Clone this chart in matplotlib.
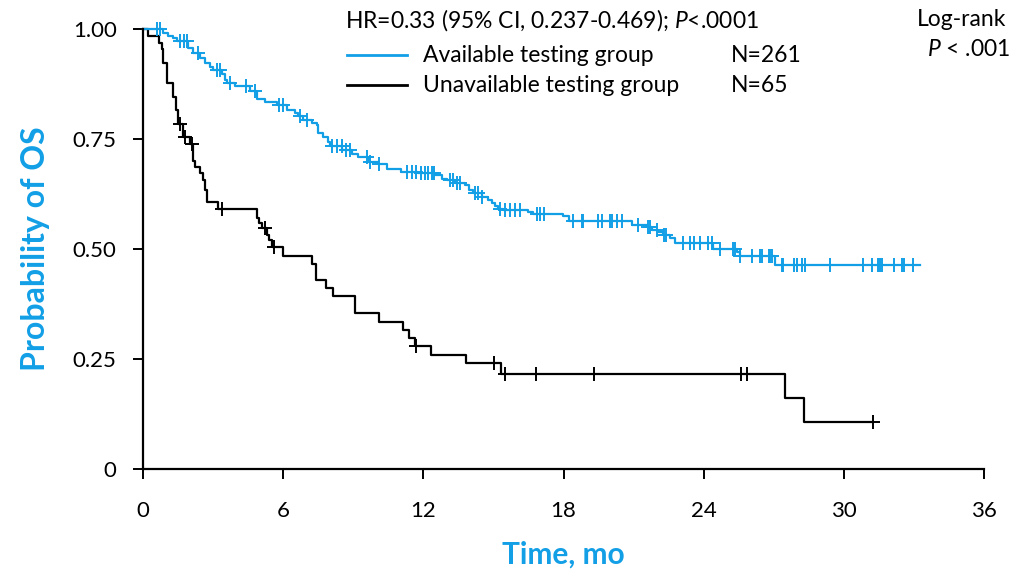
import numpy as np
import matplotlib
matplotlib.use("Agg")
import matplotlib.pyplot as plt

plt.rcParams["font.family"] = ["Lato", "DejaVu Sans"]
plt.rcParams["mathtext.fontset"] = "custom"
plt.rcParams["mathtext.rm"] = "Lato"
plt.rcParams["mathtext.it"] = "Lato:italic"

BLUE = "#129fe6"

# Available testing group (N=261): step times (mo) and survival after each step
avail_time = [0.0, 0.87, 1.08, 1.30, 1.44, 1.94, 2.15, 2.44, 2.65, 2.87, 3.01, 3.37, 3.51, 3.58,
              3.94, 4.58, 4.87, 5.22, 5.72, 6.15, 6.51, 6.65, 6.86, 7.22, 7.44, 7.50, 7.72, 7.93,
              8.01, 8.51, 8.93, 9.22, 9.64, 10.07, 10.43, 11.04, 11.77, 12.50, 12.79, 13.00,
              13.36, 13.78, 13.93, 14.14, 14.50, 14.78, 14.93, 15.07, 15.21, 15.42, 16.49, 16.71,
              17.99, 18.21, 20.92, 21.56, 21.78, 22.06, 22.27, 22.56, 22.77, 24.41, 25.41, 25.56,
              27.05]
avail_surv = [1.0, 0.990, 0.985, 0.979, 0.973, 0.956, 0.945, 0.935, 0.923, 0.914, 0.907, 0.898,
              0.884, 0.877, 0.871, 0.860, 0.842, 0.835, 0.827, 0.816, 0.808, 0.802, 0.793, 0.786,
              0.782, 0.763, 0.755, 0.744, 0.733, 0.725, 0.717, 0.710, 0.698, 0.693, 0.682, 0.676,
              0.672, 0.668, 0.660, 0.657, 0.649, 0.645, 0.634, 0.627, 0.619, 0.611, 0.604, 0.598,
              0.592, 0.589, 0.585, 0.580, 0.574, 0.564, 0.555, 0.551, 0.543, 0.539, 0.532, 0.524,
              0.514, 0.499, 0.494, 0.483, 0.464]
avail_end = 33.26
avail_cens = [0.59, 0.73, 1.60, 1.75, 1.90, 2.35, 3.15, 3.30, 3.70, 4.40, 4.80, 5.80, 6.00,
              6.70, 7.00, 8.10, 8.30, 8.50, 8.70, 8.85, 9.60, 9.70, 10.10, 11.30, 11.50, 11.70,
              11.90, 12.05, 12.20, 12.35, 12.45, 13.14, 13.27, 13.43, 13.57, 14.20, 14.35, 14.50,
              15.28, 15.50, 15.71, 15.92, 16.14, 16.85, 17.00, 17.14, 18.42, 18.78, 18.85, 19.49,
              19.63, 19.99, 20.06, 20.28, 20.49, 21.20, 21.60, 21.70, 22.00, 22.30, 22.40, 23.13,
              23.42, 23.56, 23.84, 24.20, 24.34, 24.70, 25.27, 25.34, 25.56, 26.06, 26.42, 26.48,
              26.77, 26.84, 26.91, 27.34, 27.41, 27.84, 27.99, 28.20, 28.34, 29.41, 30.83, 31.19,
              31.47, 31.55, 31.62, 32.12, 32.48, 32.55, 32.97]

# Unavailable testing group (N=65)
unav_time = [0.0, 0.23, 0.66, 0.80, 0.87, 1.01, 1.30, 1.40, 1.51, 1.73, 2.00, 2.13, 2.23, 2.44,
             2.58, 2.65, 2.73, 3.22, 4.87, 4.98, 5.08, 5.30, 5.37, 5.51, 6.00, 7.22, 7.40, 7.83,
             8.13, 9.08, 10.10, 11.11, 11.40, 11.63, 12.33, 13.81, 15.34, 27.47, 28.30]
unav_surv = [1.0, 0.985, 0.969, 0.954, 0.923, 0.877, 0.846, 0.815, 0.785, 0.754, 0.738, 0.700,
             0.687, 0.672, 0.657, 0.634, 0.607, 0.590, 0.570, 0.558, 0.547, 0.532, 0.520, 0.505,
             0.484, 0.467, 0.430, 0.411, 0.393, 0.355, 0.335, 0.316, 0.297, 0.280, 0.259, 0.240,
             0.215, 0.162, 0.106]
unav_end = 31.25
unav_cens = [1.58, 1.80, 2.08, 3.37, 5.22, 5.62, 11.69, 15.04, 15.50, 16.82, 19.32, 25.59,
             25.86, 31.25]

xticks = [0, 6, 12, 18, 24, 30, 36]
yticks = [0, 0.25, 0.50, 0.75, 1.00]
ytick_labels = ["0", "0.25", "0.50", "0.75", "1.00"]


def surv_at(times, surv, t):
    idx = np.searchsorted(times, t, side="right") - 1
    return np.asarray(surv)[idx]


def draw_km(ax, times, surv, end, cens, color):
    tt = list(times) + [end]
    ss = list(surv) + [surv[-1]]
    ax.step(tt, ss, where="post", color=color, linewidth=1.6, clip_on=False)
    ax.plot(cens, surv_at(times, surv, cens), linestyle="none", marker="+",
            markersize=10, markeredgewidth=1.4, color=color, clip_on=False)


fig = plt.figure(figsize=(10.22, 5.78), dpi=100)
ax = fig.add_axes([0.14, 0.1886, 0.823, 0.7612])

draw_km(ax, unav_time, unav_surv, unav_end, unav_cens, "black")
draw_km(ax, avail_time, avail_surv, avail_end, avail_cens, BLUE)

ax.set_xlim(0, 36)
ax.set_ylim(0, 1)
ax.set_xticks(xticks)
ax.set_yticks(yticks)
ax.set_yticklabels(ytick_labels)
ax.tick_params(labelsize=16, length=7, width=1.4, direction="out")
ax.tick_params(axis="x", pad=16)
ax.tick_params(axis="y", pad=12)
for side in ("top", "right"):
    ax.spines[side].set_visible(False)
for side in ("left", "bottom"):
    ax.spines[side].set_linewidth(1.6)

ax.set_xlabel("Time, mo", fontsize=21.5, fontweight="bold", color=BLUE, labelpad=14)
ax.set_ylabel("Probability of OS", fontsize=23, fontweight="bold", color=BLUE, labelpad=16)

# annotation block
fs = 16.5
fig.text(345 / 1022, 1 - 20 / 578, r"HR=0.33 (95% CI, 0.237-0.469); $\it{P}$<.0001",
         fontsize=fs, va="center", ha="left")
fig.add_artist(plt.Line2D([347 / 1022, 407 / 1022], [1 - 55 / 578, 1 - 55 / 578],
                          color=BLUE, linewidth=2))
fig.add_artist(plt.Line2D([347 / 1022, 407 / 1022], [1 - 85 / 578, 1 - 85 / 578],
                          color="black", linewidth=2))
fig.text(423 / 1022, 1 - 55 / 578, "Available testing group", fontsize=fs, va="center")
fig.text(423 / 1022, 1 - 85 / 578, "Unavailable testing group", fontsize=fs, va="center")
fig.text(731 / 1022, 1 - 55 / 578, "N=261", fontsize=fs, va="center")
fig.text(731 / 1022, 1 - 85 / 578, "N=65", fontsize=fs, va="center")
fig.text(1006 / 1022, 1 - 20 / 578, "Log-rank", fontsize=fs, va="center", ha="right")
fig.text(1010 / 1022, 1 - 50 / 578, r"$\it{P}$ < .001", fontsize=fs, va="center", ha="right")

fig.savefig("out.png", dpi=100)
